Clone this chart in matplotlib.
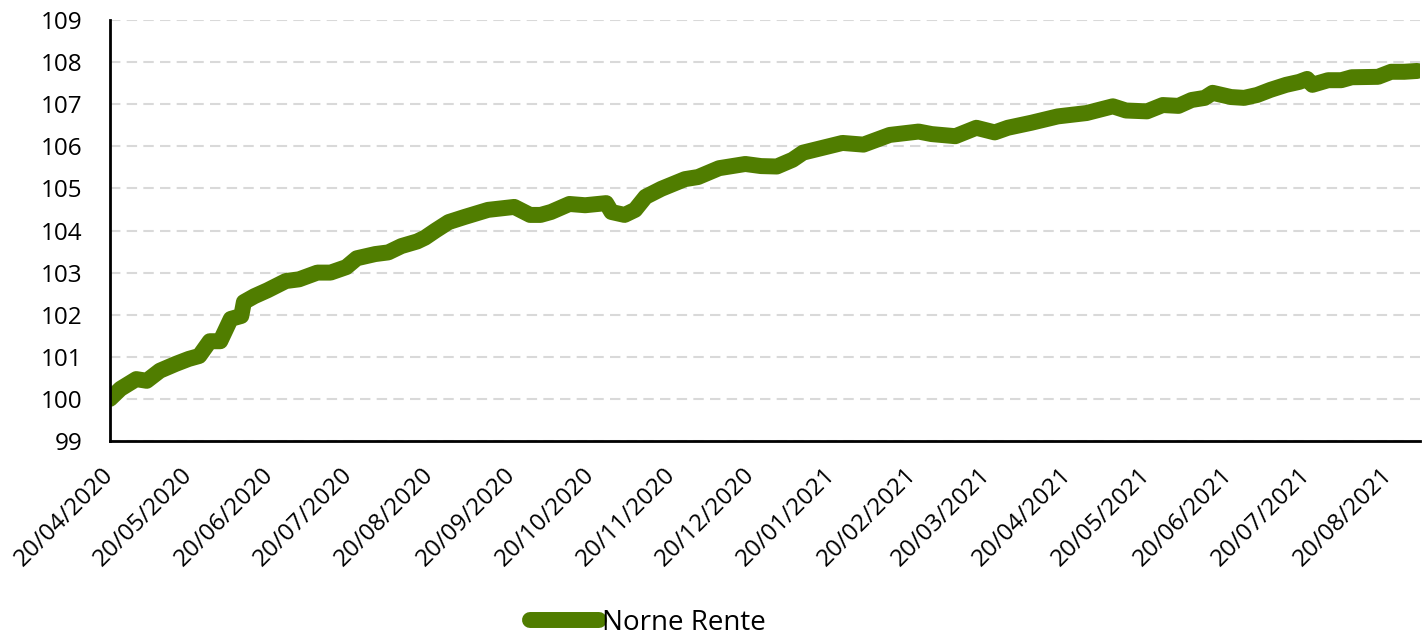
import numpy as np
import pandas as pd
import matplotlib
matplotlib.use('Agg')
import matplotlib.pyplot as plt
import matplotlib.dates as mdates

plt.rcParams['font.family'] = ['Open Sans', 'DejaVu Sans']

# Norne Rente index
dates = ['2020-04-20', '2020-04-24', '2020-04-30', '2020-05-04', '2020-05-09',
         '2020-05-15', '2020-05-20', '2020-05-24', '2020-05-28', '2020-06-01',
         '2020-06-05', '2020-06-09', '2020-06-10', '2020-06-14', '2020-06-19',
         '2020-06-26', '2020-07-01', '2020-07-08', '2020-07-13', '2020-07-19',
         '2020-07-23', '2020-07-30', '2020-08-04', '2020-08-09', '2020-08-15',
         '2020-08-18', '2020-08-22', '2020-08-27', '2020-09-02', '2020-09-11',
         '2020-09-21', '2020-09-27', '2020-10-01', '2020-10-05', '2020-10-12',
         '2020-10-18', '2020-10-26', '2020-10-28', '2020-11-02', '2020-11-06',
         '2020-11-10', '2020-11-16', '2020-11-25', '2020-11-30', '2020-12-08',
         '2020-12-18', '2020-12-24', '2020-12-30', '2021-01-05', '2021-01-09',
         '2021-01-24', '2021-02-01', '2021-02-11', '2021-02-22', '2021-02-27',
         '2021-03-08', '2021-03-16', '2021-03-23', '2021-03-28', '2021-04-06',
         '2021-04-16', '2021-04-27', '2021-05-07', '2021-05-12', '2021-05-20',
         '2021-05-26', '2021-06-01', '2021-06-06', '2021-06-11', '2021-06-14',
         '2021-06-21', '2021-06-26', '2021-07-01', '2021-07-06', '2021-07-12',
         '2021-07-17', '2021-07-20', '2021-07-22', '2021-07-28', '2021-08-02',
         '2021-08-06', '2021-08-16', '2021-08-21', '2021-08-26', '2021-08-31']
values = [100.00, 100.24, 100.47, 100.43, 100.67,
          100.83, 100.95, 101.02, 101.37, 101.37,
          101.90, 101.97, 102.30, 102.44, 102.58,
          102.80, 102.84, 103.00, 103.00, 103.13,
          103.34, 103.44, 103.48, 103.63, 103.74,
          103.83, 104.00, 104.20, 104.32, 104.49,
          104.56, 104.37, 104.37, 104.44, 104.63,
          104.60, 104.65, 104.44, 104.37, 104.49,
          104.80, 104.99, 105.22, 105.27, 105.48,
          105.58, 105.53, 105.52, 105.68, 105.85,
          106.08, 106.04, 106.27, 106.35, 106.29,
          106.24, 106.44, 106.33, 106.44, 106.56,
          106.71, 106.79, 106.95, 106.85, 106.83,
          106.98, 106.96, 107.10, 107.15, 107.27,
          107.17, 107.15, 107.22, 107.34, 107.46,
          107.53, 107.60, 107.46, 107.57, 107.57,
          107.64, 107.65, 107.77, 107.77, 107.79]

# ticks on the 20th of every month
tick_dates = pd.date_range('2020-04-01', '2021-08-01', freq='MS') + pd.Timedelta(days=19)
y_ticks = np.arange(99, 110, 1)

x = pd.to_datetime(dates)

fig = plt.figure(figsize=(14.26, 6.37), dpi=100)
ax = fig.add_axes([110 / 1426, 1 - 441 / 637, 1310 / 1426, 421 / 637])

ax.plot(x, values, color='#507D00', linewidth=11.5, solid_capstyle='round',
        solid_joinstyle='round', label='Norne Rente')

ax.set_ylim(99, 109)
ax.set_yticks(y_ticks)
ax.set_xlim(pd.Timestamp('2020-04-20'), pd.Timestamp('2021-09-01'))
ax.set_xticks(tick_dates)
ax.xaxis.set_major_formatter(mdates.DateFormatter('%d/%m/%Y'))

ax.grid(axis='y', color='#D9D9D9', linewidth=1.5, linestyle=(0, (5, 3)))
ax.set_axisbelow(True)
for s in ['top', 'right']:
    ax.spines[s].set_visible(False)
ax.spines['left'].set_linewidth(2)
ax.spines['bottom'].set_linewidth(2)

ax.tick_params(axis='both', length=0, labelsize=17.5)
ax.tick_params(axis='y', pad=20)
ax.tick_params(axis='x', pad=22)
plt.setp(ax.get_xticklabels(), rotation=45, ha='right', rotation_mode='anchor', va='center')

fig.legend(loc='center', bbox_to_anchor=(648 / 1426, 1 - 623 / 637), frameon=False,
           fontsize=20, handlelength=2.5, handletextpad=0.1)

fig.savefig('out.png', dpi=100)
